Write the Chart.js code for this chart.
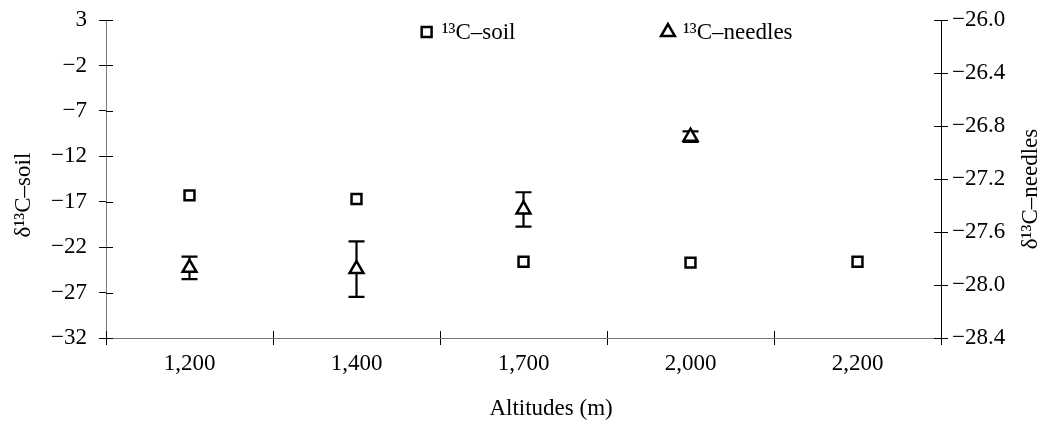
<!DOCTYPE html>
<html>
<head>
<meta charset="utf-8">
<script src="https://cdn.jsdelivr.net/npm/chart.js@4.4.1/dist/chart.umd.min.js"></script>
<style>
  html, body { margin: 0; padding: 0; background: #fff; }
  #wrap { width: 1044px; height: 425px; position: relative; }
</style>
</head>
<body>
<div id="wrap"><canvas id="isotopeChart"></canvas></div>
<script>
// Altitude classes and the two isotope series.
const altitudes = ["1,200", "1,400", "1,700", "2,000", "2,200"];
const soilValues = [-16.3, -16.7, -23.6, -23.7, -23.6];
const needleValues = [-27.87, -27.88, -27.43, -26.88, null];
const needleErrors = [0.085, 0.21, 0.13, 0.04, null];

const soilTicks = [3, -2, -7, -12, -17, -22, -27, -32];
const needleTicks = [-26.0, -26.4, -26.8, -27.2, -27.6, -28.0, -28.4];

const FONT = "'Liberation Serif', 'Times New Roman', serif";
const minus = (s) => String(s).replace("-", "\u2212");

// Error bars for the needle series, drawn under the markers.
const errorBars = {
  id: "errorBars",
  beforeDatasetsDraw(chart) {
    const { ctx } = chart;
    const meta = chart.getDatasetMeta(1);
    const yScale = chart.scales.y1;
    ctx.save();
    ctx.strokeStyle = "#000";
    ctx.lineWidth = 2.2;
    meta.data.forEach((pt, i) => {
      const v = needleValues[i];
      const e = needleErrors[i];
      if (v == null || e == null) return;
      const top = yScale.getPixelForValue(v + e);
      const bottom = yScale.getPixelForValue(v - e);
      ctx.beginPath();
      ctx.moveTo(pt.x, top);
      ctx.lineTo(pt.x, bottom);
      ctx.moveTo(pt.x - 8, top);
      ctx.lineTo(pt.x + 8, top);
      ctx.moveTo(pt.x - 8, bottom);
      ctx.lineTo(pt.x + 8, bottom);
      ctx.stroke();
    });
    ctx.restore();
  },
};

// Tick marks cross the axis lines, so add the inner half, plus legend and titles.
const decorations = {
  id: "decorations",
  afterDraw(chart) {
    const { ctx, chartArea: area } = chart;
    const len = 7;
    ctx.save();
    ctx.strokeStyle = "#000";
    ctx.lineWidth = 1;
    ctx.beginPath();
    const x = chart.scales.x;
    const step = (x.right - x.left) / altitudes.length;
    for (let i = 0; i <= altitudes.length; i++) {
      const px = Math.round(x.left + step * i) + 0.5;
      ctx.moveTo(px, area.bottom);
      ctx.lineTo(px, area.bottom - len);
    }
    chart.scales.y.ticks.forEach((t) => {
      const py = Math.round(chart.scales.y.getPixelForValue(t.value)) + 0.5;
      ctx.moveTo(area.left, py);
      ctx.lineTo(area.left + len, py);
    });
    chart.scales.y1.ticks.forEach((t) => {
      const py = Math.round(chart.scales.y1.getPixelForValue(t.value)) + 0.5;
      ctx.moveTo(area.right, py);
      ctx.lineTo(area.right - len, py);
    });
    ctx.stroke();

    // legend
    const w = area.right - area.left;
    const ly = area.top + 12;
    const items = [
      { ds: chart.data.datasets[0], x: area.left + w * 0.384 },
      { ds: chart.data.datasets[1], x: area.left + w * 0.673 },
    ];
    ctx.font = `23px ${FONT}`;
    ctx.fillStyle = "#000";
    ctx.textBaseline = "middle";
    ctx.textAlign = "left";
    items.forEach(({ ds, x: lx }) => {
      ctx.lineWidth = ds.borderWidth;
      ctx.strokeStyle = ds.borderColor;
      ctx.fillStyle = ds.backgroundColor;
      Chart.helpers.drawPoint(ctx, { pointStyle: ds.pointStyle, radius: ds.pointRadius, borderWidth: ds.borderWidth }, lx, ly);
      ctx.fillStyle = "#000";
      ctx.fillText(ds.label, lx + 15, ly + 1);
    });

    // axis titles
    const midY = (area.top + area.bottom) / 2;
    ctx.textAlign = "center";
    ctx.save();
    ctx.translate(area.left - 82, midY + 16);
    ctx.rotate(-Math.PI / 2);
    ctx.fillText("\u03b4\u00b9\u00b3C\u2013soil", 0, 0);
    ctx.restore();
    ctx.save();
    ctx.translate(area.right + 90, midY + 10);
    ctx.rotate(-Math.PI / 2);
    ctx.fillText("\u03b4\u00b9\u00b3C\u2013needles", 0, 0);
    ctx.restore();
    ctx.fillText("Altitudes (m)", area.left + w * 0.533, area.bottom + 71);
    ctx.restore();
  },
};

const tickFont = { family: FONT, size: 23 };
// small line height so the vertical axes do not push the plot area down
const yTickFont = { family: FONT, size: 23, lineHeight: 0.7 };

new Chart(document.getElementById("isotopeChart"), {
  type: "line",
  data: {
    labels: altitudes,
    datasets: [
      {
        label: "\u00b9\u00b3C\u2013soil",
        data: soilValues,
        yAxisID: "y",
        showLine: false,
        pointStyle: "rect",
        pointRadius: 7,
        pointHoverRadius: 7,
        borderWidth: 2.5,
        borderColor: "#000",
        backgroundColor: "#fff",
      },
      {
        label: "\u00b9\u00b3C\u2013needles",
        data: needleValues,
        yAxisID: "y1",
        showLine: false,
        pointStyle: "triangle",
        pointRadius: 8,
        pointHoverRadius: 8,
        borderWidth: 2.5,
        borderColor: "#000",
        backgroundColor: "#fff",
      },
    ],
  },
  options: {
    responsive: true,
    maintainAspectRatio: false,
    animation: false,
    layout: { padding: { top: 20, left: 0, right: 0, bottom: 0 } },
    plugins: {
      legend: { display: false },
      tooltip: { enabled: false },
    },
    scales: {
      x: {
        type: "category",
        offset: true,
        grid: { offset: true, drawOnChartArea: false, tickLength: 7, color: "#000" },
        border: { color: "#777" },
        ticks: { font: tickFont, color: "#000", padding: 5, maxRotation: 0 },
        afterFit: (scale) => { scale.height = 87; },
      },
      y: {
        position: "left",
        min: -32,
        max: 3,
        afterBuildTicks: (scale) => { scale.ticks = soilTicks.map((v) => ({ value: v })); },
        grid: { drawOnChartArea: false, tickLength: 7, color: "#000" },
        border: { color: "#777" },
        ticks: { font: yTickFont, color: "#000", padding: 12, callback: (v) => minus(v) },
        afterFit: (scale) => { scale.width = 106; },
      },
      y1: {
        position: "right",
        min: -28.4,
        max: -26.0,
        afterBuildTicks: (scale) => { scale.ticks = needleTicks.map((v) => ({ value: v })); },
        grid: { drawOnChartArea: false, tickLength: 7, color: "#000" },
        border: { color: "#000" },
        ticks: { font: yTickFont, color: "#000", padding: 4, callback: (v) => minus(Number(v).toFixed(1)) },
        afterFit: (scale) => { scale.width = 103; },
      },
    },
  },
  plugins: [errorBars, decorations],
});
</script>
</body>
</html>
